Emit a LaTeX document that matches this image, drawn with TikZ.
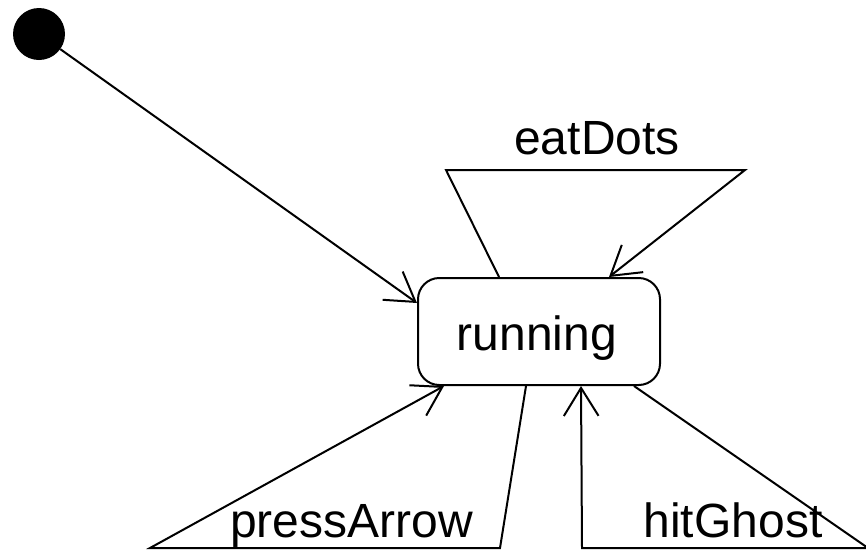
\documentclass[tikz,border=0pt]{standalone}
\usepackage{fontspec}
\setmainfont{Liberation Sans}
\usetikzlibrary{arrows.meta,calc}

\tikzset{
  flow/.style={line width=1.5pt, line join=miter},
  arr/.style={flow, -{Straight Barb[length=21pt,width=26pt,line width=1.5pt]}},
  statebox/.style={draw, line width=1.5pt, rounded corners=16pt,
    minimum width=181.5pt, minimum height=80.25pt, inner sep=0pt},
  startdot/.style={circle, fill=black, minimum size=39pt, inner sep=0pt},
  txt/.style={font=\fontsize{36pt}{40pt}\selectfont, anchor=base, inner sep=0pt}
}

\begin{document}
\begin{tikzpicture}[x=0.75pt, y=-0.75pt]
  \useasboundingbox (0,0) rectangle (866,550);

  % states
  \node[startdot] (init) at (39,34) {};
  \node[statebox] (run) at (539,331.5) {};
  \node[txt] (runlbl) at (537,350) {running};

  % bend points of the self loops
  \coordinate (eA) at (446,170);
  \coordinate (eB) at (745,170);
  \coordinate (pA) at (500,548);
  \coordinate (pB) at (150,548);
  \coordinate (hA) at (868,548);
  \coordinate (hB) at (582,548);

  % initial transition
  \draw[arr] (init) -- ($(run.north west)+(0,26)$);

  % eatDots
  \draw[arr] ($(run.north west)+(82,0)$) -- (eA) -- (eB) -- ($(run.north west)+(192,0)$);
  \node[txt] (eatlbl) at (597,154) {eatDots};

  % pressArrow
  \draw[arr] ($(run.south west)+(109,0)$) -- (pA) -- (pB) -- ($(run.south west)+(27,0)$);
  \node[txt] (presslbl) at (351.5,537) {pressArrow};

  % hitGhost
  \draw[arr] ($(run.south west)+(217,0)$) -- (hA) -- (hB) -- ($(run.south west)+(164,0)$);
  \node[txt] (hitlbl) at (733,537) {hitGhost};
\end{tikzpicture}
\end{document}
